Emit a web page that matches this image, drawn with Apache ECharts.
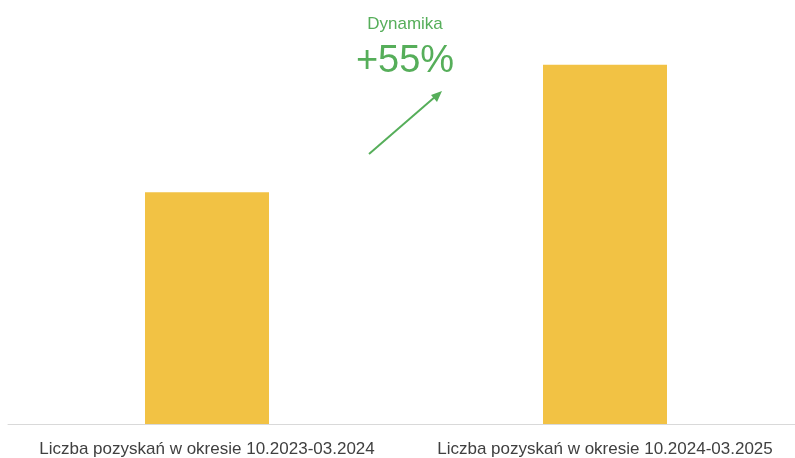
<!DOCTYPE html>
<html>
<head>
<meta charset="utf-8">
<style>
  html, body { margin: 0; padding: 0; background: #ffffff; overflow: hidden; }
  #wrap { width: 795px; height: 458px; overflow: hidden; }
  #chart { width: 804px; height: 458px; }
</style>
<script src="https://cdn.jsdelivr.net/npm/echarts@6/dist/echarts.min.js"></script>
</head>
<body>
<div id="wrap"><div id="chart"></div></div>
<script>
// Acquisitions in two comparable six-month periods
const categories = [
  'Liczba pozyskań w okresie 10.2023-03.2024',
  'Liczba pozyskań w okresie 10.2024-03.2025'
];
const acquisitions = [100, 155];
const dynamicsLabel = 'Dynamika';
const dynamicsValue = '+55%';

const green = '#56ae5a';
const chart = echarts.init(document.getElementById('chart'), null, { renderer: 'canvas' });

chart.setOption({
  animation: false,
  grid: { left: 8, right: 0, top: 0, bottom: 33, containLabel: false },
  xAxis: {
    type: 'category',
    data: categories,
    axisLine: { lineStyle: { color: '#d9d9d9', width: 1 } },
    axisTick: { show: false },
    axisLabel: {
      interval: 0,
      color: '#404040',
      fontFamily: 'Liberation Sans, Arial, sans-serif',
      fontSize: 17,
      margin: 17
    }
  },
  yAxis: {
    type: 'value',
    min: 0,
    max: 183,
    show: false,
    splitLine: { show: false }
  },
  series: [{
    type: 'bar',
    data: acquisitions,
    barWidth: 124,
    itemStyle: { color: '#f2c244' }
  }],
  graphic: [
    {
      type: 'text',
      style: {
        text: dynamicsLabel,
        x: 405, y: 24,
        fill: green,
        font: '17px "Liberation Sans", Arial, sans-serif',
        textAlign: 'center',
        textVerticalAlign: 'middle'
      }
    },
    {
      type: 'text',
      style: {
        text: dynamicsValue,
        x: 405, y: 62,
        fill: green,
        font: '38px "Liberation Sans", Arial, sans-serif',
        textAlign: 'center',
        textVerticalAlign: 'middle'
      }
    },
    {
      type: 'line',
      shape: { x1: 369, y1: 154, x2: 436, y2: 96 },
      style: { stroke: green, lineWidth: 2 }
    },
    {
      type: 'polygon',
      shape: { points: [[442, 91], [431, 95], [437, 102]] },
      style: { fill: green }
    }
  ]
});
</script>
</body>
</html>
